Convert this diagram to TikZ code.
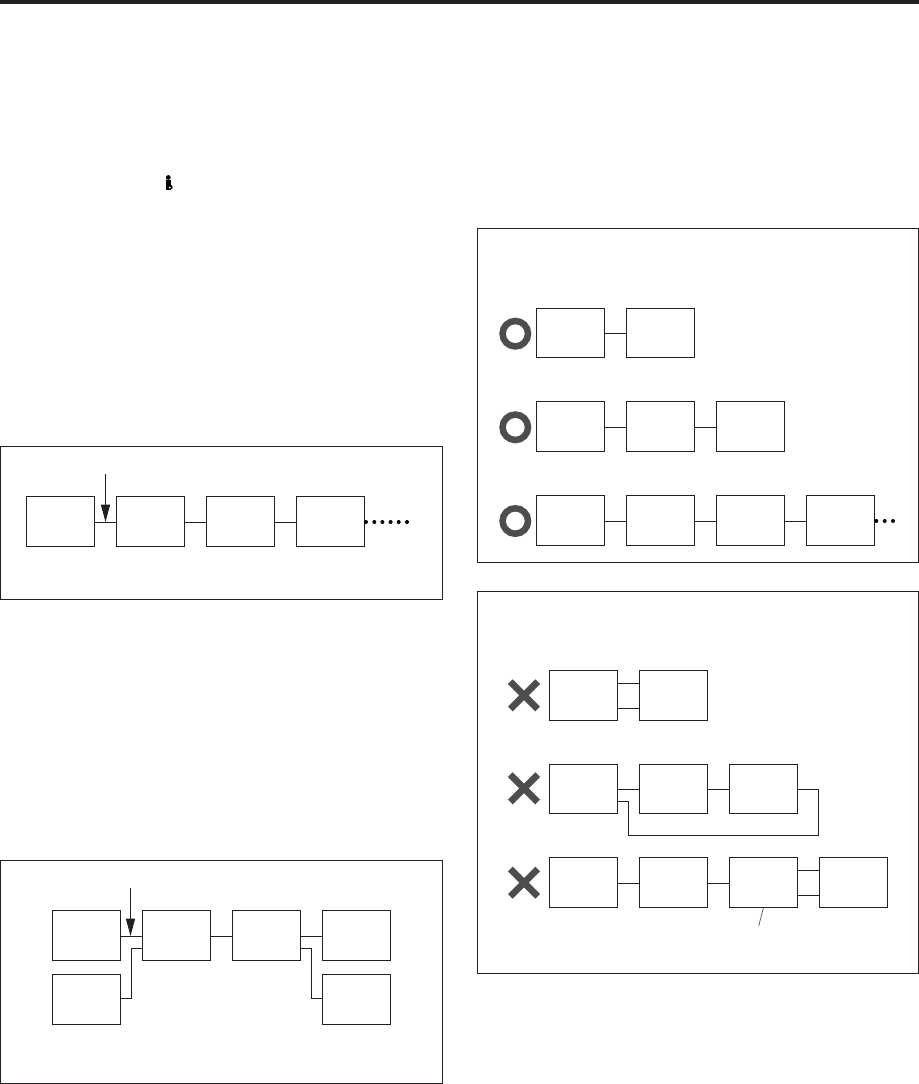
\documentclass[tikz,border=0pt]{standalone}
\usepackage{xcolor}
\usepackage{tikz}
\usetikzlibrary{arrows.meta,positioning,shapes.misc}
\definecolor{inkblack}{HTML}{231F20}
\definecolor{markgray}{HTML}{4D4D4D}
\begin{document}
\begin{tikzpicture}[x=0.75pt,y=-0.75pt,node distance=16.5pt,>={Triangle[length=13pt,width=6.75pt]},
    unitbox/.style={draw=inkblack,line width=0.75pt,inner sep=0pt,outer sep=0pt,minimum width=51pt,minimum height=37.5pt},
    shortbox/.style={unitbox,minimum height=36.75pt},
    framebox/.style={draw=inkblack,line width=0.75pt},
    wire/.style={draw=inkblack,line width=0.75pt},
    okmark/.style={circle,draw=markgray,line width=4.9pt,inner sep=0pt,outer sep=0pt,minimum size=19.1pt},
    ngmark/.style={cross out,draw=markgray,line width=5pt,inner sep=0pt,outer sep=0pt,minimum size=20.5pt},
    dotmark/.style={circle,fill=black,inner sep=0pt,outer sep=0pt,minimum size=3pt}]
    \useasboundingbox (0,0) rectangle (919,1084);
    \fill[inkblack] (0,0) rectangle (919,3.8);

    \fill[black] (168.3,177.5) circle[radius=2.4];
    \fill[black] (166.3,180.2) rectangle (170.8,189.8);
    \fill[black] (170.3,187.2) circle[radius=2.4];
    \fill[white] (169.8,187.6) circle[radius=1];

    \draw[framebox] (0.5,446.5) rectangle (442.5,599.5);
    \node[unitbox,anchor=north west] (a1) at (26.5,496.5) {};
    \node[unitbox,right=of a1] (a2) {};
    \node[unitbox,right=of a2] (a3) {};
    \node[unitbox,right=of a3] (a4) {};
    \foreach \s/\t in {a1/a2,a2/a3,a3/a4}
        \draw[wire] (\s.east |- 0,522.5) -- (\t.west |- 0,522.5);
    \coordinate (atop) at (105.5,474);
    \coordinate (atip) at (105.5,522);
    \draw[->,wire] (atop) -- (atip);
    \foreach \i/\x in {1/366,2/374.3,3/382.4,4/390.6,5/398.7,6/407}
        \node[dotmark] (adot\i) at (\x,522) {};

    \draw[framebox] (0.5,860.5) rectangle (442.5,1083);
    \node[unitbox,anchor=north west] (d1) at (52.5,910.5) {};
    \node[unitbox,right=of d1] (d2) {};
    \node[unitbox,right=of d2] (d3) {};
    \node[unitbox,right=of d3] (d4) {};
    \node[unitbox,anchor=north west] (d5) at (52.5,974.5) {};
    \node[unitbox,anchor=north west] (d6) at (322.5,974.5) {};
    \foreach \s/\t in {d1/d2,d2/d3,d3/d4}
        \draw[wire] (\s.east |- 0,936.5) -- (\t.west |- 0,936.5);
    \draw[wire] (d5.east |- 0,998.5) -| (131.5,948.5) -- (d2.west |- 0,948.5);
    \draw[wire] (d3.east |- 0,948.5) -| (311.5,998.5) -- (d6.west |- 0,998.5);
    \coordinate (dtop) at (130.5,888);
    \coordinate (dtip) at (130.5,936);
    \draw[->,wire] (dtop) -- (dtip);

    \draw[framebox] (477.5,228.5) rectangle (918.5,562.5);
    \node[shortbox,anchor=north west] (b1) at (536.5,308.5) {};
    \node[shortbox,right=of b1] (b2) {};
    \node[unitbox,anchor=north west] (b3) at (536.5,401.5) {};
    \node[unitbox,right=of b3] (b4) {};
    \node[unitbox,right=of b4] (b5) {};
    \node[unitbox,anchor=north west] (b6) at (536.5,495.5) {};
    \node[unitbox,right=of b6] (b7) {};
    \node[unitbox,right=of b7] (b8) {};
    \node[unitbox,right=of b8] (b9) {};
    \foreach \s/\t/\y in {b1/b2/333.5,b3/b4/427.5,b4/b5/427.5,b6/b7/521.5,b7/b8/521.5,b8/b9/521.5}
        \draw[wire] (\s.east |- 0,\y) -- (\t.west |- 0,\y);
    \foreach \i/\y in {1/333.7,2/427.3,3/521}
        \node[okmark] (ok\i) at (515.3,\y) {};
    \foreach \i/\x in {1/876.3,2/884.7,3/893}
        \node[dotmark] (bdot\i) at (\x,521) {};

    \draw[framebox] (477.5,591.5) rectangle (918.5,973.5);
    \node[unitbox,anchor=north west] (c1) at (549.5,670.5) {};
    \node[unitbox,right=of c1] (c2) {};
    \node[shortbox,anchor=north west] (c3) at (549.5,764.5) {};
    \node[shortbox,right=of c3] (c4) {};
    \node[shortbox,right=of c4] (c5) {};
    \node[unitbox,anchor=north west] (c6) at (549.5,857.5) {};
    \node[unitbox,right=of c6] (c7) {};
    \node[unitbox,right=of c7] (c8) {};
    \node[unitbox,right=of c8] (c9) {};
    \foreach \s/\t/\y in {c1/c2/683.5,c1/c2/708.5,c3/c4/789.5,c4/c5/789.5,c6/c7/883.5,c7/c8/883.5,c8/c9/870.5,c8/c9/895.5}
        \draw[wire] (\s.east |- 0,\y) -- (\t.west |- 0,\y);
    \draw[wire] (c3.east |- 0,801.5) -| (628.5,835.5) -| (818.5,789.5) -- (c5.east |- 0,789.5);
    \coordinate (cleader) at (758.7,926);
    \draw[inkblack!80,line width=0.5pt] (c8.south) -- (cleader);
    \foreach \i/\y in {1/695.3,2/788.3,3/882.7}
        \node[ngmark] (ng\i) at (524,\y) {};
\end{tikzpicture}
\end{document}
